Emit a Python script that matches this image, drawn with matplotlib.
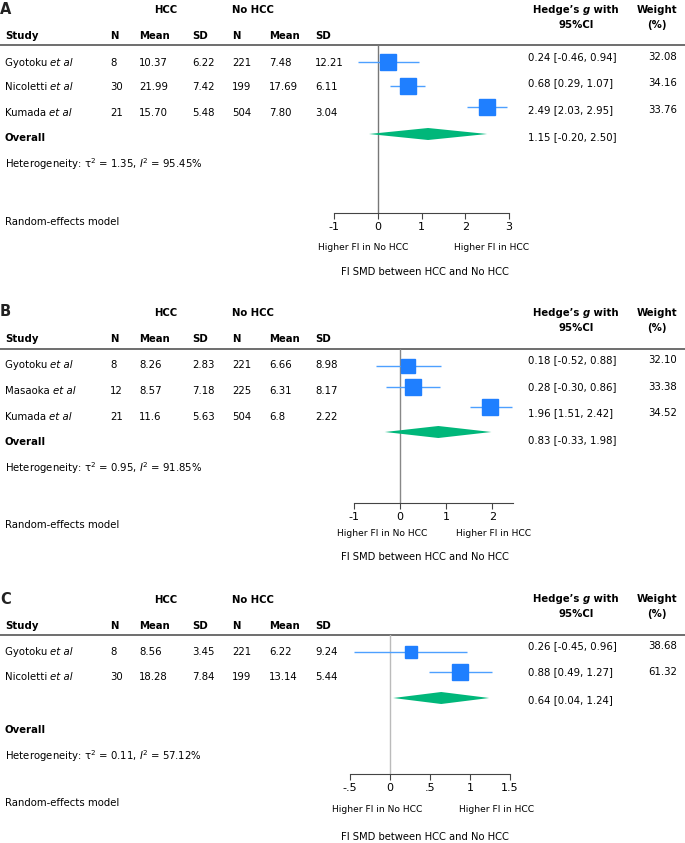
import matplotlib
matplotlib.use('Agg')
import matplotlib.pyplot as plt
import numpy as np

plt.rcParams['font.family'] = 'DejaVu Sans'

# ---- data ----
studies_a = ['Gyotoku', 'Nicoletti', 'Kumada']
hcc_n_a = ['8', '30', '21']
hcc_mean_a = ['10.37', '21.99', '15.70']
hcc_sd_a = ['6.22', '7.42', '5.48']
no_n_a = ['221', '199', '504']
no_mean_a = ['7.48', '17.69', '7.80']
no_sd_a = ['12.21', '6.11', '3.04']
g_a = [0.24, 0.68, 2.49]
lo_a = [-0.46, 0.29, 2.03]
hi_a = [0.94, 1.07, 2.95]
weight_a = [32.08, 34.16, 33.76]
overall_a = [1.15, -0.20, 2.50]
het_a = ['1.35', '95.45']
ticks_a = [-1, 0, 1, 2, 3]
ticklabels_a = ['-1', '0', '1', '2', '3']

studies_b = ['Gyotoku', 'Masaoka', 'Kumada']
hcc_n_b = ['8', '12', '21']
hcc_mean_b = ['8.26', '8.57', '11.6']
hcc_sd_b = ['2.83', '7.18', '5.63']
no_n_b = ['221', '225', '504']
no_mean_b = ['6.66', '6.31', '6.8']
no_sd_b = ['8.98', '8.17', '2.22']
g_b = [0.18, 0.28, 1.96]
lo_b = [-0.52, -0.30, 1.51]
hi_b = [0.88, 0.86, 2.42]
weight_b = [32.10, 33.38, 34.52]
overall_b = [0.83, -0.33, 1.98]
het_b = ['0.95', '91.85']
ticks_b = [-1, 0, 1, 2]
ticklabels_b = ['-1', '0', '1', '2']

studies_c = ['Gyotoku', 'Nicoletti']
hcc_n_c = ['8', '30']
hcc_mean_c = ['8.56', '18.28']
hcc_sd_c = ['3.45', '7.84']
no_n_c = ['221', '199']
no_mean_c = ['6.22', '13.14']
no_sd_c = ['9.24', '5.44']
g_c = [0.26, 0.88]
lo_c = [-0.45, 0.49]
hi_c = [0.96, 1.27]
weight_c = [38.68, 61.32]
overall_c = [0.64, 0.04, 1.24]
het_c = ['0.11', '57.12']
ticks_c = [-0.5, 0, 0.5, 1, 1.5]
ticklabels_c = ['-.5', '0', '.5', '1', '1.5']

# ---- styling ----
W, H = 685, 843
FS = 7.3
SQ = '#1f7fff'
CI = '#4da0ff'
DIA = '#00b77a'
LINE = '#555555'

fig = plt.figure(figsize=(W / 100, H / 100), dpi=100)
bg = fig.add_axes([0, 0, 1, 1])
bg.set_xlim(0, W)
bg.set_ylim(H, 0)
bg.axis('off')


def txt(x, y, s, **kw):
    kw.setdefault('fontsize', FS)
    kw.setdefault('va', 'center')
    return bg.text(x, y, s, **kw)


def after(prev, s, **kw):
    # put a piece of text right after another one
    kw.setdefault('fontsize', FS)
    return bg.annotate(s, xy=(1, 0), xycoords=prev, va='bottom', ha='left', **kw)


def panel(letter, d, lay):
    studies, hn, hm, hs, nn, nm, ns, g, lo, hi, w, ov, het, ticks, tlabels = d
    txt(0, lay['label'], letter, fontsize=10.5, fontweight='bold', color='#222222')
    txt(154, lay['hdr'], 'HCC', fontweight='bold')
    txt(232, lay['hdr'], 'No HCC', fontweight='bold')
    t = txt(533, lay['rhdr'], 'Hedge’s ', fontweight='bold')
    t = after(t, 'g', fontweight='bold', style='italic')
    after(t, ' with', fontweight='bold')
    txt(576, lay['rhdr'] + 15, '95%CI', fontweight='bold', ha='center')
    txt(657, lay['rhdr'], 'Weight', fontweight='bold', ha='center')
    txt(657, lay['rhdr'] + 15, '(%)', fontweight='bold', ha='center')

    cols = [110, 139, 192, 232, 269, 315]
    ys = lay['study']
    txt(5, ys, 'Study', fontweight='bold')
    for x, s in zip(cols, ['N', 'Mean', 'SD', 'N', 'Mean', 'SD']):
        txt(x, ys, s, fontweight='bold')
    bg.plot([0, W], [lay['line'], lay['line']], color=LINE, lw=1.2)

    for i, name in enumerate(studies):
        y = lay['rows'][i]
        t = txt(5, y, name + ' ')
        after(t, 'et al', style='italic')
        for x, s in zip(cols, [hn[i], hm[i], hs[i], nn[i], nm[i], ns[i]]):
            txt(x, y, s)
        yr = lay['right'][i]
        txt(528, yr, f'{g[i]:.2f} [{lo[i]:.2f}, {hi[i]:.2f}]')
        txt(677, yr, f'{w[i]:.2f}', ha='right')
    txt(5, lay['overall'], 'Overall', fontweight='bold')
    txt(528, lay['right_ov'], f'{ov[0]:.2f} [{ov[1]:.2f}, {ov[2]:.2f}]')
    txt(5, lay['het'], 'Heterogeneity: τ$^2$ = ' + het[0] + ', $I^2$ = ' + het[1] + '%')
    txt(5, lay['random'], 'Random-effects model')

    # forest plot axes, data x mapped onto the pixel span of the axis
    x0, x1 = lay['xpix']
    xmin, xmax = lay['xlim']
    ytop, ybot = lay['line'], lay['axis']
    ax = fig.add_axes([x0 / W, 1 - ybot / H, (x1 - x0) / W, (ybot - ytop) / H])
    ax.set_xlim(xmin, xmax)
    ax.set_ylim(ybot, ytop)
    ax.patch.set_alpha(0)
    for sp in ['top', 'right', 'left']:
        ax.spines[sp].set_visible(False)
    ax.spines['bottom'].set_color('#444444')
    ax.spines['bottom'].set_linewidth(0.8)
    ax.set_yticks([])
    ax.set_xticks(ticks)
    ax.set_xticklabels(tlabels, fontsize=8)
    ax.tick_params(axis='x', length=4, width=0.8, color='#444444', pad=2.5)
    ax.axvline(0, color=lay['zero'], lw=1, zorder=1)

    wmax = max(w)
    for i in range(len(g)):
        y = lay['marks'][i]
        ax.hlines(y, lo[i], hi[i], color=CI, lw=1, zorder=2, clip_on=False)
        side = 15.5 * np.sqrt(w[i] / wmax)
        ax.plot(g[i], y, marker='s', ms=side * 0.72, color=SQ, ls='none',
                zorder=3, clip_on=False)
    yd = lay['diamond']
    ax.fill([ov[1], ov[0], ov[2], ov[0]], [yd, yd - 6, yd, yd + 6],
            color=DIA, lw=0, zorder=3, clip_on=False)

    txt(lay['lab_no'], lay['higher'], 'Higher FI in No HCC', ha='center', fontsize=6.6)
    txt(lay['lab_yes'], lay['higher'], 'Higher FI in HCC', ha='center', fontsize=6.6)
    txt(425, lay['xtitle'], 'FI SMD between HCC and No HCC', ha='center', fontsize=7.2)


data_a = (studies_a, hcc_n_a, hcc_mean_a, hcc_sd_a, no_n_a, no_mean_a, no_sd_a,
          g_a, lo_a, hi_a, weight_a, overall_a, het_a, ticks_a, ticklabels_a)
data_b = (studies_b, hcc_n_b, hcc_mean_b, hcc_sd_b, no_n_b, no_mean_b, no_sd_b,
          g_b, lo_b, hi_b, weight_b, overall_b, het_b, ticks_b, ticklabels_b)
data_c = (studies_c, hcc_n_c, hcc_mean_c, hcc_sd_c, no_n_c, no_mean_c, no_sd_c,
          g_c, lo_c, hi_c, weight_c, overall_c, het_c, ticks_c, ticklabels_c)

panel('A', data_a, dict(label=9, hdr=10, rhdr=10, study=36, line=45,
                        rows=[63, 87, 113], right=[57, 83, 110], right_ov=137,
                        overall=138, het=164, random=222,
                        marks=[62, 86, 107], diamond=134, axis=213,
                        xpix=(334, 509), xlim=(-1, 3), zero='#777777',
                        lab_no=363, lab_yes=492, higher=247, xtitle=272))

panel('B', data_b, dict(label=312, hdr=313, rhdr=313, study=339, line=349,
                        rows=[365, 391, 417], right=[360, 387, 413], right_ov=440,
                        overall=442, het=468, random=525,
                        marks=[366, 387, 407], diamond=432, axis=503,
                        xpix=(354, 513), xlim=(-1, 2.45), zero='#888888',
                        lab_no=382, lab_yes=494, higher=533, xtitle=557))

panel('C', data_c, dict(label=600, hdr=600, rhdr=599, study=626, line=635,
                        rows=[652, 677], right=[646, 672], right_ov=700,
                        overall=730, het=756, random=803,
                        marks=[652, 672], diamond=698, axis=774,
                        xpix=(350, 510), xlim=(-0.5, 1.5), zero='#bbbbbb',
                        lab_no=377, lab_yes=497, higher=810, xtitle=837))

fig.savefig('out.png', dpi=100)
